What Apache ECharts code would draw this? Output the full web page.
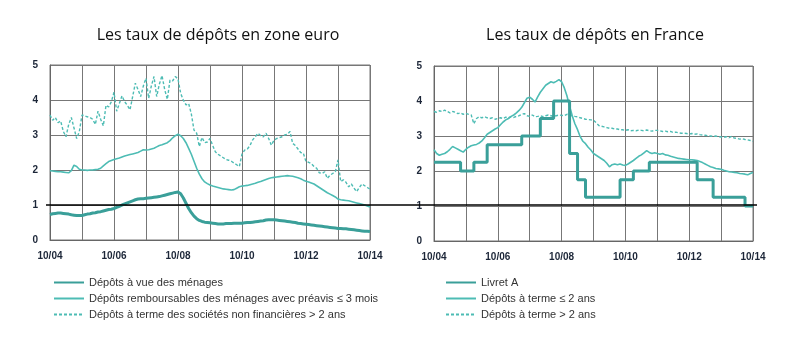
<!DOCTYPE html>
<html><head><meta charset="utf-8">
<script src="https://cdn.jsdelivr.net/npm/echarts@6/dist/echarts.min.js"></script>
<style>html,body{margin:0;padding:0;background:#fff}#c{width:800px;height:348px}</style>
</head><body><div id="c"></div>
<script>
// Month categories Oct 2004 .. Oct 2014
const categories = [];
(function(){ let y=4, m=10; for (let i=0;i<121;i++){ categories.push((m<10?'0':'')+m+'/'+(y<10?'0':'')+y); m++; if(m>12){m=1;y++;} } })();

const yTicks = [0,1,2,3,4,5];

// Zone euro
const vueMenages = [
0.73,0.75,0.76,0.77,0.77,0.76,0.75,0.74,0.72,0.71,0.70,0.70,
0.70,0.72,0.74,0.75,0.77,0.78,0.80,0.81,0.83,0.85,0.87,0.88,
0.90,0.93,0.96,1.00,1.03,1.06,1.09,1.12,1.15,1.17,1.18,1.18,
1.19,1.20,1.21,1.22,1.23,1.24,1.26,1.28,1.30,1.32,1.34,1.36,
1.37,1.32,1.20,1.05,0.90,0.78,0.68,0.61,0.56,0.53,0.51,0.50,
0.49,0.48,0.47,0.46,0.46,0.46,0.47,0.47,0.47,0.48,0.48,0.48,
0.48,0.49,0.50,0.50,0.51,0.52,0.53,0.54,0.55,0.57,0.58,0.58,
0.58,0.57,0.56,0.55,0.54,0.53,0.52,0.51,0.50,0.48,0.47,0.46,
0.45,0.44,0.43,0.42,0.41,0.40,0.39,0.38,0.37,0.36,0.35,0.34,
0.33,0.33,0.32,0.32,0.31,0.30,0.29,0.28,0.27,0.26,0.25,0.25,
0.24];
const rembMenages = [
1.98,1.97,1.96,1.95,1.95,1.94,1.93,1.92,1.98,2.14,2.10,2.02,
2.00,2.00,1.99,2.00,2.00,2.01,2.02,2.05,2.12,2.18,2.24,2.27,
2.30,2.32,2.34,2.37,2.40,2.42,2.44,2.46,2.48,2.50,2.54,2.58,
2.57,2.58,2.60,2.62,2.66,2.70,2.72,2.75,2.78,2.84,2.92,2.98,
3.02,2.98,2.90,2.78,2.62,2.45,2.25,2.05,1.88,1.75,1.66,1.61,
1.57,1.54,1.52,1.50,1.48,1.46,1.45,1.44,1.43,1.44,1.48,1.52,
1.54,1.55,1.56,1.58,1.60,1.62,1.65,1.67,1.70,1.73,1.76,1.78,
1.79,1.80,1.81,1.82,1.83,1.84,1.83,1.82,1.80,1.78,1.75,1.71,
1.68,1.66,1.63,1.60,1.55,1.50,1.45,1.40,1.35,1.31,1.27,1.23,
1.17,1.15,1.14,1.13,1.12,1.10,1.08,1.06,1.04,1.02,1.00,0.97,
0.94];
const termeSNF = [
3.57,3.42,3.50,3.35,3.40,3.10,2.95,3.30,3.50,3.20,2.90,3.10,
3.57,3.55,3.52,3.50,3.45,3.30,3.68,3.45,3.26,3.85,3.80,3.95,
4.22,3.68,3.90,4.12,3.95,3.85,3.72,4.10,4.48,4.30,4.10,4.40,
4.62,4.05,4.40,4.67,4.10,4.45,4.70,4.30,4.02,4.57,4.55,4.67,
4.60,4.19,4.00,3.86,3.90,3.60,3.14,3.05,2.67,2.93,2.78,2.80,
2.90,2.70,2.52,2.45,2.40,2.35,2.30,2.28,2.25,2.20,2.15,2.10,
2.45,2.57,2.60,2.70,2.86,2.95,3.05,2.98,2.95,3.05,2.90,2.71,
2.85,2.90,2.92,2.95,3.00,3.02,3.10,2.76,2.70,2.60,2.50,2.48,
2.24,2.22,2.18,2.10,2.05,1.92,1.90,1.95,1.76,1.85,1.90,1.95,
2.29,1.67,1.72,1.65,1.52,1.60,1.48,1.38,1.50,1.60,1.55,1.50,
1.45];

// France
const livretA = [
2.25,2.25,2.25,2.25,2.25,2.25,2.25,2.25,2.25,2.25,
2.0,2.0,2.0,2.0,2.0,
2.25,2.25,2.25,2.25,2.25,
2.75,2.75,2.75,2.75,2.75,2.75,2.75,2.75,2.75,2.75,2.75,2.75,2.75,
3.0,3.0,3.0,3.0,3.0,3.0,3.0,
3.5,3.5,3.5,3.5,3.5,
4.0,4.0,4.0,4.0,4.0,4.0,
2.5,2.5,2.5,
1.75,1.75,1.75,
1.25,1.25,1.25,1.25,1.25,1.25,1.25,1.25,1.25,1.25,1.25,1.25,1.25,
1.75,1.75,1.75,1.75,1.75,
2.0,2.0,2.0,2.0,2.0,2.0,
2.25,2.25,2.25,2.25,2.25,2.25,2.25,2.25,2.25,2.25,2.25,2.25,2.25,2.25,2.25,2.25,2.25,2.25,
1.75,1.75,1.75,1.75,1.75,1.75,
1.25,1.25,1.25,1.25,1.25,1.25,1.25,1.25,1.25,1.25,1.25,1.25,
1.0,1.0,1.0,1.0];
const termeCourt = [
2.61,2.50,2.45,2.48,2.50,2.55,2.62,2.70,2.66,2.62,2.58,2.54,
2.62,2.68,2.72,2.74,2.76,2.80,2.86,2.95,3.05,3.10,3.15,3.20,
3.24,3.32,3.40,3.46,3.50,3.56,3.60,3.66,3.73,3.82,3.95,4.08,
4.11,4.05,3.97,4.12,4.25,4.35,4.45,4.50,4.55,4.52,4.56,4.61,
4.55,4.38,4.15,3.85,3.58,3.35,3.18,2.98,2.85,2.78,2.68,2.60,
2.50,2.45,2.40,2.35,2.30,2.22,2.12,2.18,2.20,2.18,2.20,2.17,
2.16,2.20,2.25,2.30,2.36,2.42,2.46,2.52,2.58,2.53,2.50,2.52,
2.50,2.48,2.50,2.46,2.45,2.42,2.40,2.38,2.36,2.35,2.34,2.33,
2.32,2.32,2.31,2.30,2.27,2.24,2.20,2.16,2.12,2.10,2.07,2.06,
2.05,2.02,2.00,1.98,1.97,1.96,1.95,1.93,1.92,1.91,1.89,1.93,
1.96];
const termeLong = [
3.70,3.68,3.72,3.70,3.74,3.70,3.66,3.70,3.68,3.64,3.66,3.62,
3.65,3.62,3.60,3.35,3.50,3.55,3.52,3.55,3.52,3.50,3.52,3.48,
3.50,3.52,3.50,3.54,3.52,3.55,3.53,3.56,3.58,3.62,3.64,3.58,
3.56,3.60,3.55,3.56,3.58,3.55,3.58,3.60,3.58,3.56,3.58,3.60,
3.59,3.58,3.62,3.60,3.58,3.56,3.55,3.52,3.50,3.48,3.47,3.46,
3.45,3.38,3.30,3.28,3.26,3.24,3.22,3.22,3.20,3.20,3.18,3.18,
3.16,3.18,3.15,3.16,3.15,3.17,3.16,3.15,3.17,3.15,3.14,3.16,
3.16,3.15,3.13,3.14,3.12,3.13,3.10,3.11,3.09,3.08,3.08,3.07,
3.06,3.07,3.05,3.06,3.04,3.03,3.02,3.01,3.00,2.99,3.00,2.98,
2.97,2.96,2.98,2.95,2.99,2.94,2.93,2.91,2.92,2.90,2.89,2.87,
2.85];

const cThick = '#3a9f99', cThin = '#4dbcb4';
const axisTxt = {color:'#1c2638', fontSize:10, fontWeight:'bold', fontFamily:'Liberation Sans'};
function xAx(gi){ return {type:'category', gridIndex:gi, data:categories, boundaryGap:false,
  axisLine:{lineStyle:{color:'#666', width:1}}, axisTick:{show:false},
  axisLabel:Object.assign({interval:23, margin:11, showMaxLabel:true}, axisTxt),
  splitLine:{show:true, interval:11, lineStyle:{color:'#777', width:1}}}; }
function yAx(gi){ return {type:'value', gridIndex:gi, min:yTicks[0], max:yTicks[yTicks.length-1], interval:1,
  axisLine:{show:true, lineStyle:{color:'#666'}}, axisTick:{show:false},
  axisLabel:Object.assign({margin:12}, axisTxt),
  splitLine:{show:true, lineStyle:{color:'#777', width:1}}}; }
function ln(name, data, gi, color, width, dashed, step){
  return {name, type:'line', xAxisIndex:gi, yAxisIndex:gi, data, symbol:'none', step:step||false,
    lineStyle:{color, width, type: dashed ? [3,2] : 'solid'}, itemStyle:{color}, silent:true, animation:false};
}
const legTxt = {color:'#333', fontSize:11, fontFamily:'Liberation Sans'};
const legCommon = {orient:'vertical', top:272, itemWidth:30, itemHeight:12, itemGap:5, textStyle:legTxt,
  itemStyle:{opacity:0}, selectedMode:false};
const chart = echarts.init(document.getElementById('c'), null, {renderer:'canvas'});
chart.setOption({
  animation:false,
  title:[
    {text:'Les taux de dépôts en zone euro', left:213, top:22, textAlign:'center',
     textStyle:{fontSize:16, fontWeight:'normal', color:'#111', fontFamily:'Open Sans'}},
    {text:'Les taux de dépôts en France', left:590, top:22, textAlign:'center',
     textStyle:{fontSize:16, fontWeight:'normal', color:'#111', fontFamily:'Open Sans'}}
  ],
  grid:[
    {left:50, top:65, width:320, height:175, show:true, borderColor:'#777', borderWidth:1},
    {left:434, top:66, width:319, height:175, show:true, borderColor:'#777', borderWidth:1}
  ],
  xAxis:[xAx(0), xAx(1)],
  yAxis:[yAx(0), yAx(1)],
  legend:[
    Object.assign({left:48,
     data:['Dépôts à vue des ménages','Dépôts remboursables des ménages avec préavis ≤ 3 mois','Dépôts à terme des sociétés non financières > 2 ans']}, legCommon),
    Object.assign({left:440,
     data:['Livret A','Dépôts à terme ≤ 2 ans','Dépôts à terme > 2 ans']}, legCommon)
  ],
  series:[
    ln('Dépôts à terme des sociétés non financières > 2 ans', termeSNF, 0, cThin, 1.4, true),
    ln('Dépôts remboursables des ménages avec préavis ≤ 3 mois', rembMenages, 0, cThin, 1.6, false),
    ln('Dépôts à vue des ménages', vueMenages, 0, cThick, 3, false),
    ln('Dépôts à terme > 2 ans', termeLong, 1, cThin, 1.4, true),
    ln('Dépôts à terme ≤ 2 ans', termeCourt, 1, cThin, 1.6, false),
    ln('Livret A', livretA, 1, cThick, 3, false, 'end')
  ]
});
// horizontal reference line at 1 across both panels
const pA = chart.convertToPixel({xAxisIndex:0, yAxisIndex:0}, [0, 1]);
const pB = chart.convertToPixel({xAxisIndex:1, yAxisIndex:1}, [categories.length-1, 1]);
chart.setOption({graphic:[{type:'line', z:100, shape:{x1:pA[0]-4, y1:pA[1], x2:pB[0]+4, y2:pA[1]}, style:{stroke:'#000', lineWidth:1.5}}]});
</script></body></html>
